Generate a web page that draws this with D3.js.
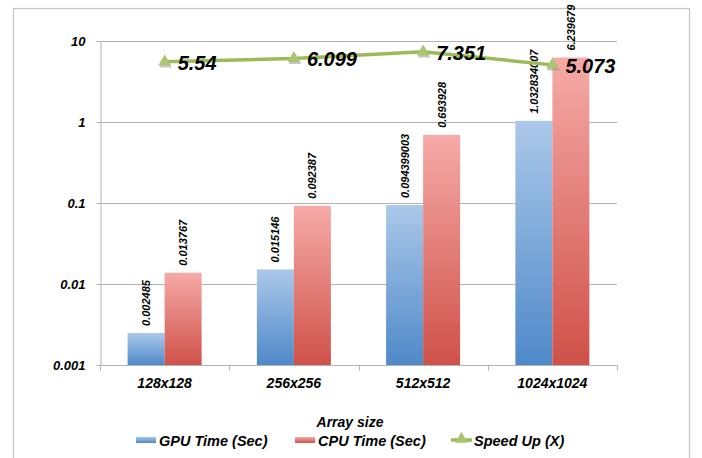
<!DOCTYPE html>
<html>
<head>
<meta charset="utf-8">
<script src="https://cdn.jsdelivr.net/npm/d3@7"></script>
<style>
  html, body { margin: 0; padding: 0; background: #fff; }
  svg { display: block; }
  text { font-family: Arial, "Liberation Sans", sans-serif; font-weight: bold; font-style: italic; fill: #000; }
</style>
</head>
<body>
<svg id="chart" width="702" height="458"></svg>
<script>
const categories = ["128x128", "256x256", "512x512", "1024x1024"];
const gpuTime = [0.002485, 0.015146, 0.094399003, 1.032834007];
const cpuTime = [0.013767, 0.092387, 0.693928, 6.239679];
const speedUp = [5.54, 6.099, 7.351, 5.073];
const yTicks = [0.001, 0.01, 0.1, 1, 10];
const seriesNames = ["GPU Time (Sec)", "CPU Time (Sec)", "Speed Up (X)"];
const xTitle = "Array size";

const svg = d3.select("#chart");
const plot = { left: 100, right: 617, top: 41, bottom: 365 };

// outer frame
svg.append("rect").attr("x", 13.5).attr("y", 8.5).attr("width", 676).attr("height", 460)
  .attr("fill", "#fff").attr("stroke", "#c4c4c4").attr("stroke-width", 1.2);

const defs = svg.append("defs");
function grad(id, top, bottom) {
  const g = defs.append("linearGradient").attr("id", id).attr("x1", 0).attr("y1", 0).attr("x2", 0).attr("y2", 1);
  g.append("stop").attr("offset", "0%").attr("stop-color", top);
  g.append("stop").attr("offset", "100%").attr("stop-color", bottom);
}
grad("gpuGrad", "#abc8e9", "#4f89c9");
grad("cpuGrad", "#f6aaa7", "#cf5149");

const x = d3.scaleBand().domain(categories).range([plot.left, plot.right]).padding(0);
const y = d3.scaleLog().domain([0.001, 10]).range([plot.bottom, plot.top]);
const barW = 37;

// gridlines
svg.append("g").selectAll("line").data(yTicks.filter(t => t > 0.001)).join("line")
  .attr("x1", plot.left).attr("x2", plot.right)
  .attr("y1", d => Math.round(y(d)) + 0.5).attr("y2", d => Math.round(y(d)) + 0.5)
  .attr("stroke", "#b3b3b3").attr("stroke-width", 1);

// y axis
const yAxis = svg.append("g").attr("transform", `translate(${plot.left + 0.5},0)`)
  .call(d3.axisLeft(y).tickValues(yTicks).tickFormat(d => String(d)).tickSize(4).tickSizeOuter(0));
yAxis.select(".domain").attr("stroke", "#b3b3b3");
yAxis.selectAll(".tick line").attr("stroke", "#b3b3b3");
yAxis.selectAll(".tick text").attr("x", -15).attr("font-size", 13)
  .attr("font-family", "Arial, 'Liberation Sans', sans-serif");

// x axis
const xAxisG = svg.append("g").attr("transform", `translate(0,${plot.bottom + 0.5})`);
xAxisG.append("line").attr("x1", plot.left).attr("x2", plot.right).attr("stroke", "#b3b3b3");
const bounds = categories.map(c => x(c)).concat([plot.right]);
xAxisG.selectAll("line.tk").data(bounds).join("line").attr("class", "tk")
  .attr("x1", d => Math.round(d) + 0.5).attr("x2", d => Math.round(d) + 0.5)
  .attr("y1", 0).attr("y2", 5).attr("stroke", "#b3b3b3");
xAxisG.selectAll("text").data(categories).join("text")
  .attr("x", d => x(d) + x.bandwidth() / 2).attr("y", 22)
  .attr("text-anchor", "middle").attr("font-size", 14).text(d => d);

// bars
const cx = c => x(c) + x.bandwidth() / 2;
svg.append("g").selectAll("rect").data(categories).join("rect")
  .attr("x", d => cx(d) - barW).attr("width", barW)
  .attr("y", (d, i) => y(gpuTime[i])).attr("height", (d, i) => plot.bottom - y(gpuTime[i]))
  .attr("fill", "url(#gpuGrad)");
svg.append("g").selectAll("rect").data(categories).join("rect")
  .attr("x", d => cx(d)).attr("width", barW)
  .attr("y", (d, i) => y(cpuTime[i])).attr("height", (d, i) => plot.bottom - y(cpuTime[i]))
  .attr("fill", "url(#cpuGrad)");

// value labels
function valLabels(arr, offset) {
  svg.append("g").selectAll("text").data(categories).join("text")
    .attr("transform", (d, i) => `translate(${cx(d) + offset + 4},${y(arr[i]) - 7}) rotate(-90)`)
    .attr("font-size", 11).text((d, i) => String(arr[i]));
}
valLabels(gpuTime, -barW / 2);
valLabels(cpuTime, barW / 2);

// speed-up line
const line = d3.line().x((d, i) => cx(categories[i])).y(d => y(d));
svg.append("path").datum(speedUp).attr("d", line)
  .attr("fill", "none").attr("stroke", "#9bbb59").attr("stroke-width", 3.5).attr("stroke-linejoin", "round");
const tri = d3.symbol().type(d3.symbolTriangle).size(70);
svg.append("g").selectAll("path.sh").data(speedUp).join("path").attr("class", "sh")
  .attr("transform", (d, i) => `translate(${cx(categories[i]) + 1},${y(d) + 2})`)
  .attr("d", tri).attr("fill", "#7f7f7f").attr("opacity", 0.45);
svg.append("g").selectAll("path.mk").data(speedUp).join("path").attr("class", "mk")
  .attr("transform", (d, i) => `translate(${cx(categories[i])},${y(d)})`)
  .attr("d", tri).attr("fill", "#a9c56f");
svg.append("g").selectAll("text").data(speedUp).join("text")
  .attr("x", (d, i) => cx(categories[i]) + 13).attr("y", d => y(d) + 8)
  .attr("font-size", 20).text(d => String(d));

// axis title
svg.append("text").attr("x", 350).attr("y", 427).attr("text-anchor", "middle")
  .attr("font-size", 14).text(xTitle);

// legend
const leg = svg.append("g");
const legX = [136, 295, 451];
leg.append("rect").attr("x", legX[0]).attr("y", 437).attr("width", 20).attr("height", 6).attr("fill", "url(#gpuGrad)");
leg.append("rect").attr("x", legX[1]).attr("y", 437).attr("width", 20).attr("height", 6).attr("fill", "url(#cpuGrad)");
leg.append("line").attr("x1", legX[2]).attr("x2", legX[2] + 21).attr("y1", 440).attr("y2", 440)
  .attr("stroke", "#9bbb59").attr("stroke-width", 3.5);
leg.append("path").attr("transform", `translate(${legX[2] + 10.5},439)`).attr("d", tri).attr("fill", "#a9c56f");
leg.selectAll("text").data(seriesNames).join("text")
  .attr("x", (d, i) => legX[i] + 23).attr("y", 446).attr("font-size", 14.5).text(d => d);
</script>
</body>
</html>
